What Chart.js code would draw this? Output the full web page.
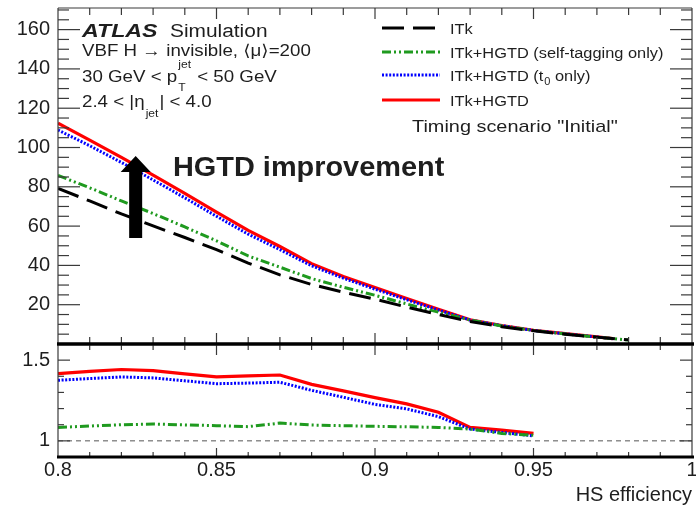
<!DOCTYPE html>
<html><head><meta charset="utf-8">
<script src="https://cdn.jsdelivr.net/npm/chart.js"></script>
<style>
html,body{margin:0;padding:0;background:#fff;}
#wrap{position:relative;width:696px;height:507px;overflow:hidden;background:#fff;}
canvas{position:absolute;left:0;}
#c1{top:0;} #c2{top:340px;}
</style></head><body>
<div id="wrap"><canvas id="c1" width="696" height="346"></canvas><canvas id="c2" width="696" height="167"></canvas></div>
<script>
// ---------------- data ----------------
const effMain    = [0.80,0.81,0.82,0.83,0.84,0.85,0.86,0.87,0.88,0.89,0.90,0.91,0.92,0.93,0.94,0.95,0.96,0.97,0.98];
const rejITk     = [79.2,72.8,66.2,60.1,54.2,48.0,41.2,35.2,30.3,26.4,22.8,18.8,15.0,11.4,8.8,6.7,5.0,3.5,2.1];
const rejSelfTag = [85.8,79.5,72.8,66.4,59.6,52.5,44.8,39.1,33.3,28.9,24.8,20.4,16.2,12.2,9.2,6.9,5.1,3.5,2.0];
const effTiming  = [0.80,0.81,0.82,0.83,0.84,0.85,0.86,0.87,0.88,0.89,0.90,0.91,0.92,0.93,0.94,0.95,0.96,0.97,0.975];
const rejT0      = [108.9,100.9,92.4,83.5,74.4,65.0,55.9,48.0,39.8,33.5,27.9,22.5,17.3,12.2,9.3,6.9,5.2,3.55,2.7];
const rejFull    = [112.4,103.8,95.0,85.9,76.6,67.1,57.8,49.6,40.9,34.3,28.8,23.1,17.7,12.3,9.4,7.0,5.3,3.6,2.7];

const effRatio      = [0.80,0.81,0.82,0.83,0.84,0.85,0.86,0.87,0.88,0.89,0.90,0.91,0.92,0.93,0.94,0.95];
const ratioSelfTag  = [1.083,1.092,1.100,1.104,1.099,1.094,1.088,1.110,1.098,1.094,1.090,1.087,1.083,1.073,1.046,1.035];
const ratioT0       = [1.375,1.386,1.396,1.390,1.372,1.354,1.358,1.363,1.313,1.270,1.226,1.198,1.150,1.073,1.052,1.031];
const ratioFull     = [1.417,1.430,1.442,1.435,1.415,1.396,1.402,1.408,1.350,1.310,1.268,1.229,1.177,1.083,1.067,1.046];
const ratioRefX     = [0.8,1.0];
const ratioRefY     = [1,1];

const xTickValues = [0.8,0.85,0.9,0.95,1.0];
const xTickLabels = ['0.8','0.85','0.9','0.95','1'];
const yTickMain   = [20,40,60,80,100,120,140,160];
const yTickRatio  = [1,1.5];
const yTickRatioLabels = ['1','1.5'];

const seriesNames = ['ITk','ITk+HGTD (self-tagging only)','ITk+HGTD (t0 only)','ITk+HGTD'];

// ---------------- styles ----------------
const FONT = '"Liberation Sans", Arial, "DejaVu Sans", sans-serif';
const TXT = '#1e1e1e';
const S = {
  itk:  {color:'#000000', dash:[22,9], width:3},
  self: {color:'#1f9a1f', dash:[9,3,2,3,2,3], width:3},
  t0:   {color:'#0000ff', dash:[2,1.6], width:3},
  full: {color:'#ff0000', dash:[], width:3.2}
};
function pts(xs, ys){ return xs.map((x,i)=>({x:x, y:ys[i]})); }
function ds(label, xs, ys, st){
  return {label, data: pts(xs,ys), borderColor: st.color, backgroundColor: st.color, borderWidth: st.width,
          borderDash: st.dash, borderCapStyle:'butt', pointRadius:0, tension:0, fill:false};
}
function L(ctx,x1,y1,x2,y2){ctx.beginPath();ctx.moveTo(x1,y1);ctx.lineTo(x2,y2);ctx.stroke();}
function txt(ctx, s, x, y, font, sx){
  ctx.save(); ctx.font = font; ctx.fillStyle = TXT; ctx.textBaseline='alphabetic'; ctx.textAlign='left';
  ctx.translate(x,y); ctx.scale(sx,1); ctx.fillText(s,0,0);
  const w = ctx.measureText(s).width*sx; ctx.restore(); return w;
}

// ---------------- plugins ----------------
const frameMain = {
  id:'frameMain',
  afterDatasetsDraw(chart){
    const {ctx, chartArea:a, scales:{x,y}} = chart;
    ctx.save(); ctx.setLineDash([]); ctx.strokeStyle='#3a3a3a'; ctx.lineWidth=1.2;
    L(ctx,a.left,a.top,a.right,a.top); L(ctx,a.left,a.top,a.left,a.bottom); L(ctx,a.right,a.top,a.right,a.bottom);
    for(let i=1;i<20;i++){ const px=x.getPixelForValue(0.8+i*0.01); const l=(i%5===0)?11:7;
      L(ctx,px,a.bottom,px,a.bottom-l); L(ctx,px,a.top,px,a.top+l); }
    for(let v=5; v<=170; v+=5){ const py=y.getPixelForValue(v); const l=(v%20===0)?22:11;
      L(ctx,a.left,py,a.left+l,py); L(ctx,a.right,py,a.right-l,py); }
    ctx.strokeStyle='#000'; ctx.lineWidth=3; L(ctx,a.left-1,a.bottom,a.right+2,a.bottom);
    ctx.restore();
  }
};
const annotMain = {
  id:'annotMain',
  afterDraw(chart){
    const {ctx, scales:{x,y}} = chart;
    ctx.save();
    // ATLAS label block
    txt(ctx,'ATLAS',82,37,'bold italic 19px '+FONT,1.22);
    txt(ctx,'Simulation',170,37,'18px '+FONT,1.16);
    txt(ctx,'VBF H \u2192 invisible, \u27E8\u03BC\u27E9=200',82,56,'16px '+FONT,1.17);
    let cx = 82 + txt(ctx,'30 GeV < p',82,82,'16px '+FONT,1.17);
    txt(ctx,'T',cx+1,91,'11px '+FONT,1.1);
    const wj = txt(ctx,'jet',cx+1,68,'11px '+FONT,1.1);
    txt(ctx,' < 50 GeV',cx+wj+2,82,'16px '+FONT,1.17);
    cx = 82 + txt(ctx,'2.4 < |\u03B7',82,107,'16px '+FONT,1.17);
    const wj2 = txt(ctx,'jet',cx+1,117,'11px '+FONT,1.1);
    txt(ctx,'| < 4.0',cx+wj2+2,107,'16px '+FONT,1.17);

    // legend
    const rows = [
      {st:S.itk,  yy:28},
      {st:S.self, yy:52},
      {st:S.t0,   yy:75},
      {st:S.full, yy:100}
    ];
    rows.forEach((r,i)=>{
      ctx.save(); ctx.strokeStyle=r.st.color; ctx.lineWidth=r.st.width; ctx.setLineDash(r.st.dash); ctx.lineCap='butt';
      L(ctx,382,r.yy,440,r.yy); ctx.restore();
      if(i===2){
        let xx = 450 + txt(ctx,'ITk+HGTD (t',450,r.yy+5.5,'14px '+FONT,1.17);
        const w0 = txt(ctx,'0',xx+1,r.yy+10,'10px '+FONT,1.1);
        txt(ctx,' only)',xx+w0+1,r.yy+5.5,'14px '+FONT,1.17);
      } else {
        txt(ctx,seriesNames[i],450,r.yy+5.5,'14px '+FONT,1.17);
      }
    });
    txt(ctx,'Timing scenario "Initial"',412,132,'17px '+FONT,1.17);

    // HGTD improvement annotation
    txt(ctx,'HGTD improvement',173,176,'bold 27px '+FONT,1.07);
    const ax = x.getPixelForValue(0.8245), yTip=y.getPixelForValue(95.7), yBase=y.getPixelForValue(87.5), yBot=y.getPixelForValue(54);
    ctx.fillStyle='#000'; ctx.beginPath();
    ctx.moveTo(ax,yTip); ctx.lineTo(ax+15,yBase); ctx.lineTo(ax+6.5,yBase); ctx.lineTo(ax+6.5,yBot);
    ctx.lineTo(ax-6.5,yBot); ctx.lineTo(ax-6.5,yBase); ctx.lineTo(ax-15,yBase); ctx.closePath(); ctx.fill();
    ctx.restore();
  }
};
const frameRatio = {
  id:'frameRatio',
  afterDatasetsDraw(chart){
    const {ctx, chartArea:a, scales:{x,y}} = chart;
    ctx.save(); ctx.setLineDash([]); ctx.strokeStyle='#3a3a3a'; ctx.lineWidth=1.2;
    L(ctx,a.left,a.top,a.left,a.bottom); L(ctx,a.right,a.top,a.right,a.bottom);
    for(let i=1;i<20;i++){ const px=x.getPixelForValue(0.8+i*0.01); const maj=(i%5===0);
      L(ctx,px,a.bottom,px,a.bottom-(maj?9:5)); L(ctx,px,a.top,px,a.top+(maj?11:6)); }
    for(let k=1;k<7;k++){ const v=0.9+k*0.1; const py=y.getPixelForValue(v); const maj=(k===1||k===6); const l=maj?12:6;
      L(ctx,a.left,py,a.left+l,py); L(ctx,a.right,py,a.right-l,py); }
    ctx.strokeStyle='#000'; ctx.lineWidth=3;
    L(ctx,a.left-1,a.top,a.right+2,a.top); L(ctx,a.left-1,a.bottom,a.right+2,a.bottom);
    ctx.restore();
  }
};

// ---------------- charts ----------------
Chart.defaults.font.family = FONT;
Chart.defaults.color = TXT;

new Chart(document.getElementById('c1'), {
  type:'line',
  data:{datasets:[
    ds(seriesNames[0], effMain, rejITk, S.itk),
    ds(seriesNames[1], effMain, rejSelfTag, S.self),
    ds(seriesNames[2], effTiming, rejT0, S.t0),
    ds(seriesNames[3], effTiming, rejFull, S.full)
  ]},
  options:{
    responsive:false, animation:false, events:[],
    layout:{padding:{left:0,right:4,top:8,bottom:2}},
    plugins:{legend:{display:false}, tooltip:{enabled:false}},
    scales:{
      x:{type:'linear', min:0.8, max:1.0, display:false},
      y:{type:'linear', min:0, max:171,
         afterBuildTicks(s){ s.ticks = yTickMain.map(v=>({value:v})); },
         afterFit(s){ s.width=58; s.paddingTop=0; s.paddingBottom=0; },
         grid:{display:false, drawTicks:false}, border:{display:false},
         ticks:{padding:8, color:TXT, font:{size:20}, callback:(v)=> String(v)}}
    }
  },
  plugins:[frameMain, annotMain]
});

new Chart(document.getElementById('c2'), {
  type:'line',
  data:{datasets:[
    ds('ITk', ratioRefX, ratioRefY, {color:'#555', dash:[5,4], width:1}),
    ds(seriesNames[1], effRatio, ratioSelfTag, S.self),
    ds(seriesNames[2], effRatio, ratioT0, S.t0),
    ds(seriesNames[3], effRatio, ratioFull, S.full)
  ]},
  options:{
    responsive:false, animation:false, events:[],
    layout:{padding:{left:0,right:4,top:4,bottom:0}},
    plugins:{legend:{display:false}, tooltip:{enabled:false}},
    scales:{
      x:{type:'linear', min:0.8, max:1.0,
         afterBuildTicks(s){ s.ticks = xTickValues.map(v=>({value:v})); },
         afterFit(s){ s.height=50; s.paddingLeft=0; s.paddingRight=0; },
         grid:{display:false, drawTicks:false}, border:{display:false},
         ticks:{padding:1, autoSkip:false, maxRotation:0, color:TXT, font:{size:20},
                callback:(v)=>{ const i=xTickValues.findIndex(t=>Math.abs(t-v)<1e-6); return i>=0?xTickLabels[i]:''; }},
         title:{display:true, text:'HS efficiency', align:'end', color:TXT, font:{size:20}, padding:0}},
      y:{type:'linear', min:0.9, max:1.6,
         afterBuildTicks(s){ s.ticks = yTickRatio.map(v=>({value:v})); },
         afterFit(s){ s.width=58; s.paddingTop=0; s.paddingBottom=0; },
         grid:{display:false, drawTicks:false}, border:{display:false},
         ticks:{padding:8, color:TXT, font:{size:20},
                callback:(v)=>{ const i=yTickRatio.findIndex(t=>Math.abs(t-v)<1e-6); return i>=0?yTickRatioLabels[i]:''; }}}
    }
  },
  plugins:[frameRatio]
});
</script>
</body></html>
